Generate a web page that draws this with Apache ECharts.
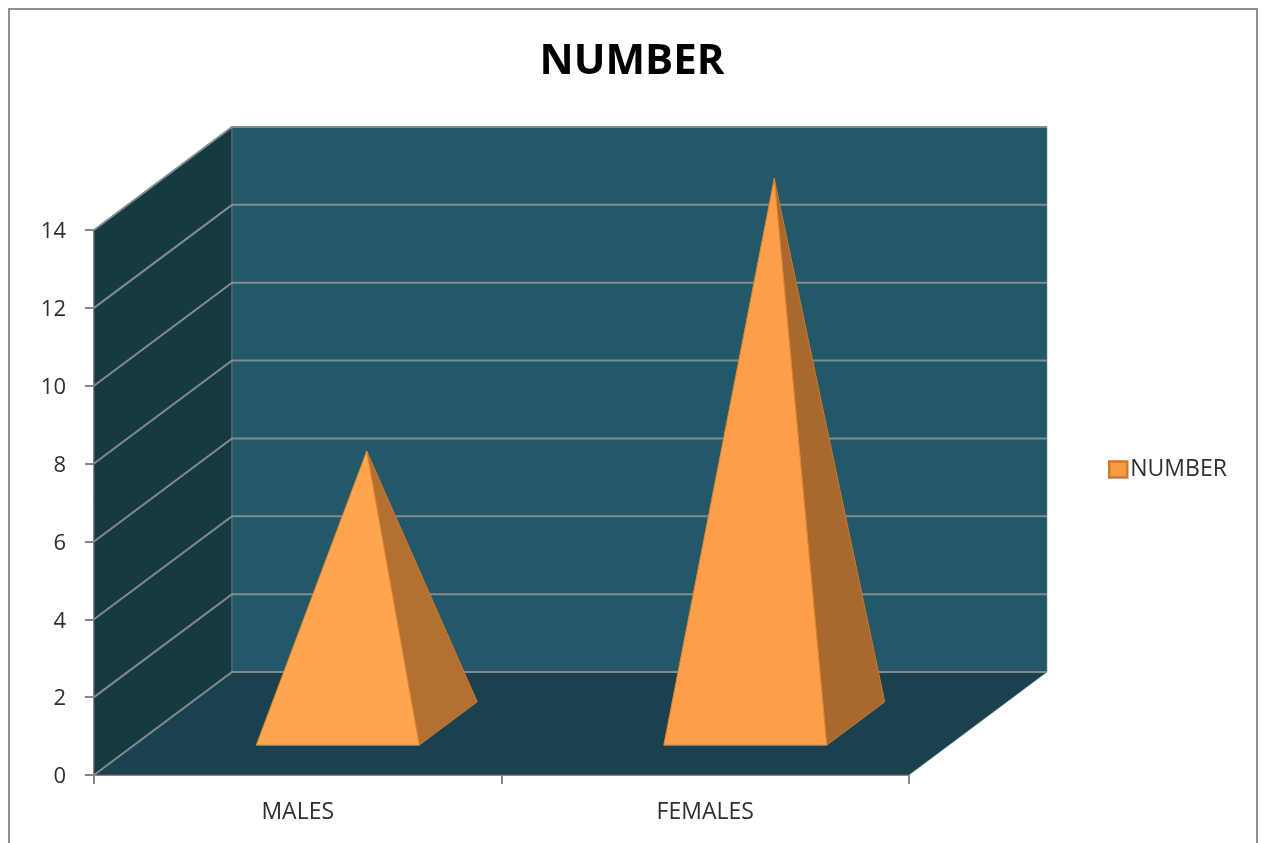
<!DOCTYPE html>
<html>
<head>
<meta charset="utf-8">
<title>NUMBER</title>
<script src="https://cdn.jsdelivr.net/npm/echarts@6/dist/echarts.min.js"></script>
<style>
  html, body { margin: 0; padding: 0; background: #ffffff; overflow: hidden; }
  #chart { width: 1264px; height: 843px; }
</style>
</head>
<body>
<div id="chart"></div>
<script>
// Values shown in the chart
const categories = ['MALES', 'FEMALES'];
const seriesName = 'NUMBER';
const numberValues = [7, 14];
const valueTicks = [0, 2, 4, 6, 8, 10, 12, 14];

// Oblique projection: screen shift for a point at the very back of the box
const depthX = 138;
const depthY = -103;
const project = (p, d) => [p[0] + depthX * d, p[1] + depthY * d];

const faceColors = [
  { front: '#ffa54f', side: '#b46f33' },
  { front: '#ff9e4a', side: '#a9682e' }
];
const gridColor = '#828c8f';
const axisColor = '#868686';
const fontFamily = '"Open Sans", "Noto Sans", sans-serif';

// Side wall, back wall, floor and the gridlines wrapped around them
function renderBox(params, api) {
  const left = params.coordSys.x;
  const right = left + params.coordSys.width;
  const floorY = api.coord([0, 0])[1];
  const topY = api.coord([0, valueTicks[valueTicks.length - 1]])[1];
  const bl = [left, floorY];
  const br = [right, floorY];
  const tl = [left, topY];
  const tr = [right, topY];
  const poly = (points, fill) => ({
    type: 'polygon',
    shape: { points },
    style: { fill, stroke: gridColor, lineWidth: 0.6 },
    silent: true
  });
  const children = [
    poly([bl, tl, project(tl, 1), project(bl, 1)], '#163942'),
    poly([project(bl, 1), project(tl, 1), project(tr, 1), project(br, 1)], '#225867'),
    poly([bl, br, project(br, 1), project(bl, 1)], '#1a414e')
  ];
  valueTicks.forEach((v) => {
    const y = api.coord([0, v])[1];
    const back = project([left, y], 1);
    children.push({
      type: 'polyline',
      shape: { points: [[left, y], back, [back[0] + (right - left), back[1]]] },
      style: { stroke: gridColor, lineWidth: 2, fill: null },
      silent: true
    });
  });
  return { type: 'group', children };
}

// One four-sided pyramid: apex sits mid-depth at the value's height
function renderPyramid(params, api) {
  const cat = api.value(0);
  const base = api.coord([cat, 0]);
  const top = api.coord([cat, api.value(1)]);
  const half = api.size([1, 0])[0] * 0.2;
  const near = 0.29;
  const far = 0.71;
  const frontLeft = project([base[0] - half, base[1]], near);
  const frontRight = project([base[0] + half, base[1]], near);
  const backRight = project([base[0] + half, base[1]], far);
  const apex = project(top, 0.5);
  const colors = faceColors[params.dataIndex];
  return {
    type: 'group',
    children: [
      {
        type: 'polygon',
        shape: { points: [frontRight, backRight, apex] },
        style: { fill: colors.side, stroke: '#c9782f', lineWidth: 1, lineJoin: 'round' }
      },
      {
        type: 'polygon',
        shape: { points: [frontLeft, frontRight, apex] },
        style: { fill: colors.front, stroke: '#dd8630', lineWidth: 1, lineJoin: 'round' }
      }
    ]
  };
}

const chart = echarts.init(document.getElementById('chart'), null, { renderer: 'canvas' });
chart.setOption({
  animation: false,
  backgroundColor: '#ffffff',
  title: {
    text: seriesName,
    left: 627,
    top: 36,
    textAlign: 'center',
    textStyle: { fontFamily, fontSize: 42, fontWeight: 'bold', color: '#000000' }
  },
  legend: {
    left: 1103,
    top: 453,
    itemWidth: 18,
    itemHeight: 16,
    itemGap: 0,
    data: [{
      name: seriesName,
      icon: 'rect',
      itemStyle: { color: '#f79a42', borderColor: '#cf7a2e', borderWidth: 2.5 }
    }],
    textStyle: { fontFamily, fontSize: 23, color: '#2f2f2f', padding: [0, 0, 0, -2] }
  },
  grid: { left: 94, right: 355, top: 230, bottom: 68 },
  xAxis: {
    type: 'category',
    data: categories,
    axisLine: { show: true, lineStyle: { color: axisColor, width: 2 } },
    axisTick: { show: true, length: 9, alignWithLabel: false, lineStyle: { color: axisColor, width: 2 } },
    axisLabel: { margin: 26, fontFamily, fontSize: 23, color: '#2f2f2f' },
    splitLine: { show: false }
  },
  yAxis: {
    type: 'value',
    min: 0,
    max: 14,
    interval: 2,
    axisLine: { show: true, lineStyle: { color: axisColor, width: 2 } },
    axisTick: { show: true, length: 9, lineStyle: { color: axisColor, width: 2 } },
    axisLabel: {
      margin: 28,
      formatter: '{tick|{value}}',
      rich: { tick: { fontFamily, fontSize: 22, color: '#2f2f2f', padding: [4, 0, 0, 0] } }
    },
    splitLine: { show: false }
  },
  graphic: [{
    type: 'rect',
    z: -10,
    silent: true,
    shape: { x: 9, y: 9, width: 1248, height: 860 },
    style: { fill: 'none', stroke: '#8f8f8f', lineWidth: 2 }
  }],
  series: [
    {
      name: 'box',
      type: 'custom',
      coordinateSystem: 'cartesian2d',
      clip: false,
      silent: true,
      z: 1,
      data: [[0, 0]],
      encode: { x: 0, y: 1 },
      renderItem: renderBox
    },
    {
      name: seriesName,
      type: 'custom',
      coordinateSystem: 'cartesian2d',
      clip: false,
      z: 3,
      itemStyle: { color: '#f79a42' },
      data: numberValues.map((v, i) => [i, v]),
      encode: { x: 0, y: 1 },
      renderItem: renderPyramid
    }
  ]
});
</script>
</body>
</html>
